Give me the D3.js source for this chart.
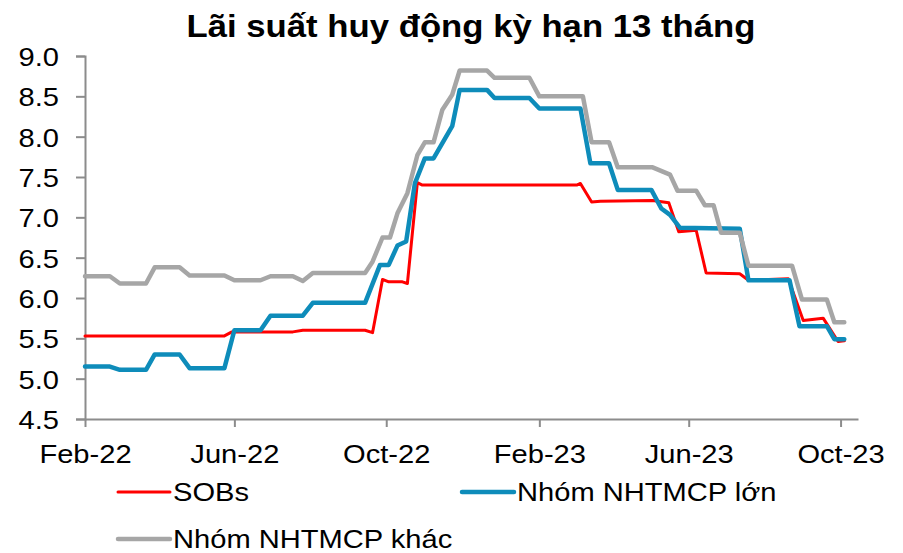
<!DOCTYPE html>
<html>
<head>
<meta charset="utf-8">
<script src="https://cdn.jsdelivr.net/npm/d3@7"></script>
<style>
    body { margin: 0; background: #fff; }
    text { font-family: "Liberation Sans", Arial, sans-serif; }
</style>
</head>
<body>
<div id="chart"></div>
<script>

// Series data: [date, rate %] at each change point
const sobs = [
    ["2022-02-01", 5.53], ["2022-05-24", 5.53], ["2022-05-30", 5.58], ["2022-07-18", 5.58],
    ["2022-07-26", 5.60], ["2022-09-14", 5.60], ["2022-09-20", 5.57], ["2022-09-28", 6.23],
    ["2022-10-03", 6.20], ["2022-10-14", 6.20], ["2022-10-18", 6.18], ["2022-10-26", 7.43],
    ["2022-10-30", 7.40], ["2023-03-03", 7.40], ["2023-03-06", 7.42], ["2023-03-15", 7.19],
    ["2023-03-22", 7.20], ["2023-05-03", 7.21], ["2023-05-16", 7.18], ["2023-05-24", 6.82],
    ["2023-06-07", 6.84], ["2023-06-15", 6.31], ["2023-07-12", 6.30], ["2023-07-19", 6.22],
    ["2023-08-20", 6.24], ["2023-09-01", 5.72], ["2023-09-17", 5.75], ["2023-09-29", 5.46],
    ["2023-10-04", 5.47]
]

const bigBanks = [
    ["2022-02-01", 5.15], ["2022-02-21", 5.15], ["2022-03-01", 5.11], ["2022-03-22", 5.11],
    ["2022-03-29", 5.30], ["2022-04-18", 5.30], ["2022-04-26", 5.13], ["2022-05-24", 5.13],
    ["2022-06-01", 5.60], ["2022-06-22", 5.60], ["2022-06-30", 5.78], ["2022-07-26", 5.78],
    ["2022-08-03", 5.94], ["2022-09-14", 5.94], ["2022-09-26", 6.41], ["2022-10-03", 6.41],
    ["2022-10-10", 6.65], ["2022-10-17", 6.70], ["2022-10-24", 7.42], ["2022-11-01", 7.73],
    ["2022-11-08", 7.73], ["2022-11-23", 8.13], ["2022-11-29", 8.58], ["2022-12-21", 8.58],
    ["2022-12-27", 8.48], ["2023-01-24", 8.48], ["2023-02-01", 8.35], ["2023-03-06", 8.35],
    ["2023-03-14", 7.67], ["2023-03-29", 7.67], ["2023-04-05", 7.34], ["2023-05-02", 7.34],
    ["2023-05-10", 7.11], ["2023-05-17", 7.03], ["2023-05-25", 6.87], ["2023-07-12", 6.86],
    ["2023-07-19", 6.22], ["2023-08-21", 6.22], ["2023-08-29", 5.65], ["2023-09-20", 5.65],
    ["2023-09-26", 5.49], ["2023-10-04", 5.49]
]

const otherBanks = [
    ["2022-02-01", 6.27], ["2022-02-21", 6.27], ["2022-03-01", 6.18], ["2022-03-22", 6.18],
    ["2022-03-29", 6.38], ["2022-04-18", 6.38], ["2022-04-26", 6.28], ["2022-05-24", 6.28],
    ["2022-06-01", 6.22], ["2022-06-22", 6.22], ["2022-06-30", 6.27], ["2022-07-18", 6.27],
    ["2022-07-26", 6.21], ["2022-08-03", 6.31], ["2022-09-14", 6.31], ["2022-09-20", 6.45],
    ["2022-09-28", 6.75], ["2022-10-04", 6.75], ["2022-10-10", 7.05], ["2022-10-18", 7.30],
    ["2022-10-26", 7.77], ["2022-11-01", 7.93], ["2022-11-08", 7.93], ["2022-11-15", 8.33],
    ["2022-11-23", 8.52], ["2022-11-29", 8.82], ["2022-12-21", 8.82], ["2022-12-27", 8.73],
    ["2023-01-24", 8.73], ["2023-02-01", 8.50], ["2023-03-08", 8.50], ["2023-03-15", 7.93],
    ["2023-03-29", 7.93], ["2023-04-05", 7.62], ["2023-05-03", 7.62], ["2023-05-17", 7.53],
    ["2023-05-23", 7.33], ["2023-06-07", 7.33], ["2023-06-14", 7.15], ["2023-06-21", 7.15],
    ["2023-06-27", 6.81], ["2023-07-12", 6.81], ["2023-07-19", 6.40], ["2023-08-23", 6.40],
    ["2023-08-31", 5.98], ["2023-09-20", 5.98], ["2023-09-26", 5.70], ["2023-10-04", 5.70]
]

const seriesNames = ["SOBs", "Nhóm NHTMCP lớn", "Nhóm NHTMCP khác"]
const xDomain = ["2022-02-01", "2023-10-15"]
const xTickDates = ["2022-02-01", "2022-06-01", "2022-10-01", "2023-02-01", "2023-06-01", "2023-10-01"]
const yTicks = [4.5, 5.0, 5.5, 6.0, 6.5, 7.0, 7.5, 8.0, 8.5, 9.0]

// Size
const width = 903, height = 553
const margin = { top: 56, right: 45, bottom: 134, left: 85 }

// text in the source is a little wider than Arial
const sx = 1.12

const svg = d3.select("#chart")
    .append("svg")
    .attr("width", width)
    .attr("height", height)

const parse = d3.timeParse("%Y-%m-%d")

const x = d3.scaleTime()
    .domain(xDomain.map(parse))
    .range([margin.left, width - margin.right])

const y = d3.scaleLinear()
    .domain([4.5, 9.0])
    .range([height - margin.bottom, margin.top])

const axisColor = "#8c8c8c"

// Title
svg.append("text")
    .attr("transform", `translate(471,37) scale(${sx},1)`)
    .attr("text-anchor", "middle")
    .style("font-size", "31px")
    .style("font-weight", "bold")
    .text("Lãi suất huy động kỳ hạn 13 tháng")

// Y axis
const yAxis = svg.append("g")
    .attr("transform", `translate(${margin.left},0)`)
    .call(d3.axisLeft(y).tickValues(yTicks).tickFormat(d3.format(".1f")).tickSize(9).tickPadding(17))
yAxis.select(".domain").attr("stroke", axisColor).attr("stroke-width", 2)
yAxis.selectAll(".tick line").attr("stroke", axisColor).attr("stroke-width", 2)
yAxis.selectAll(".tick text")
    .style("font-size", "26px")
    .attr("fill", "#000")
    .attr("dy", "0.36em")
    .attr("x", -26 / sx)
    .attr("transform", `scale(${sx},1)`)

// X axis
const xAxis = svg.append("g")
    .attr("transform", `translate(0,${height - margin.bottom})`)
    .call(d3.axisBottom(x).tickValues(xTickDates.map(parse)).tickFormat(d3.timeFormat("%b-%y")).tickSize(8).tickPadding(18).tickSizeOuter(0))
xAxis.select(".domain").attr("stroke", axisColor).attr("stroke-width", 2)
xAxis.selectAll(".tick line").attr("stroke", axisColor).attr("stroke-width", 2)
xAxis.selectAll(".tick text")
    .style("font-size", "26px")
    .attr("fill", "#000")
    .attr("transform", `scale(${sx},1)`)

// Lines
const line = d3.line()
    .x(d => x(parse(d[0])))
    .y(d => y(d[1]))

const series = [
    { name: seriesNames[0], data: sobs, color: "#ff0000", w: 3 },
    { name: seriesNames[1], data: bigBanks, color: "#0e8cba", w: 4.5 },
    { name: seriesNames[2], data: otherBanks, color: "#a6a6a6", w: 4.5 }
]

svg.append("g")
    .selectAll("path")
    .data(series)
    .join("path")
    .attr("d", d => line(d.data))
    .attr("fill", "none")
    .attr("stroke", d => d.color)
    .attr("stroke-width", d => d.w)
    .attr("stroke-linejoin", "round")
    .attr("stroke-linecap", "round")

// Legend
const legendPos = [[118, 492], [462, 492], [118, 539]]
const legend = svg.append("g")
    .selectAll("g")
    .data(series)
    .join("g")
    .attr("transform", (d, i) => `translate(${legendPos[i][0]},${legendPos[i][1]})`)

legend.append("line")
    .attr("x1", 0)
    .attr("x2", 52)
    .attr("stroke", d => d.color)
    .attr("stroke-width", d => d.w)
    .attr("stroke-linecap", "round")

legend.append("text")
    .attr("transform", `translate(55,9) scale(${sx},1)`)
    .style("font-size", "26px")
    .text(d => d.name)

</script>
</body>
</html>
